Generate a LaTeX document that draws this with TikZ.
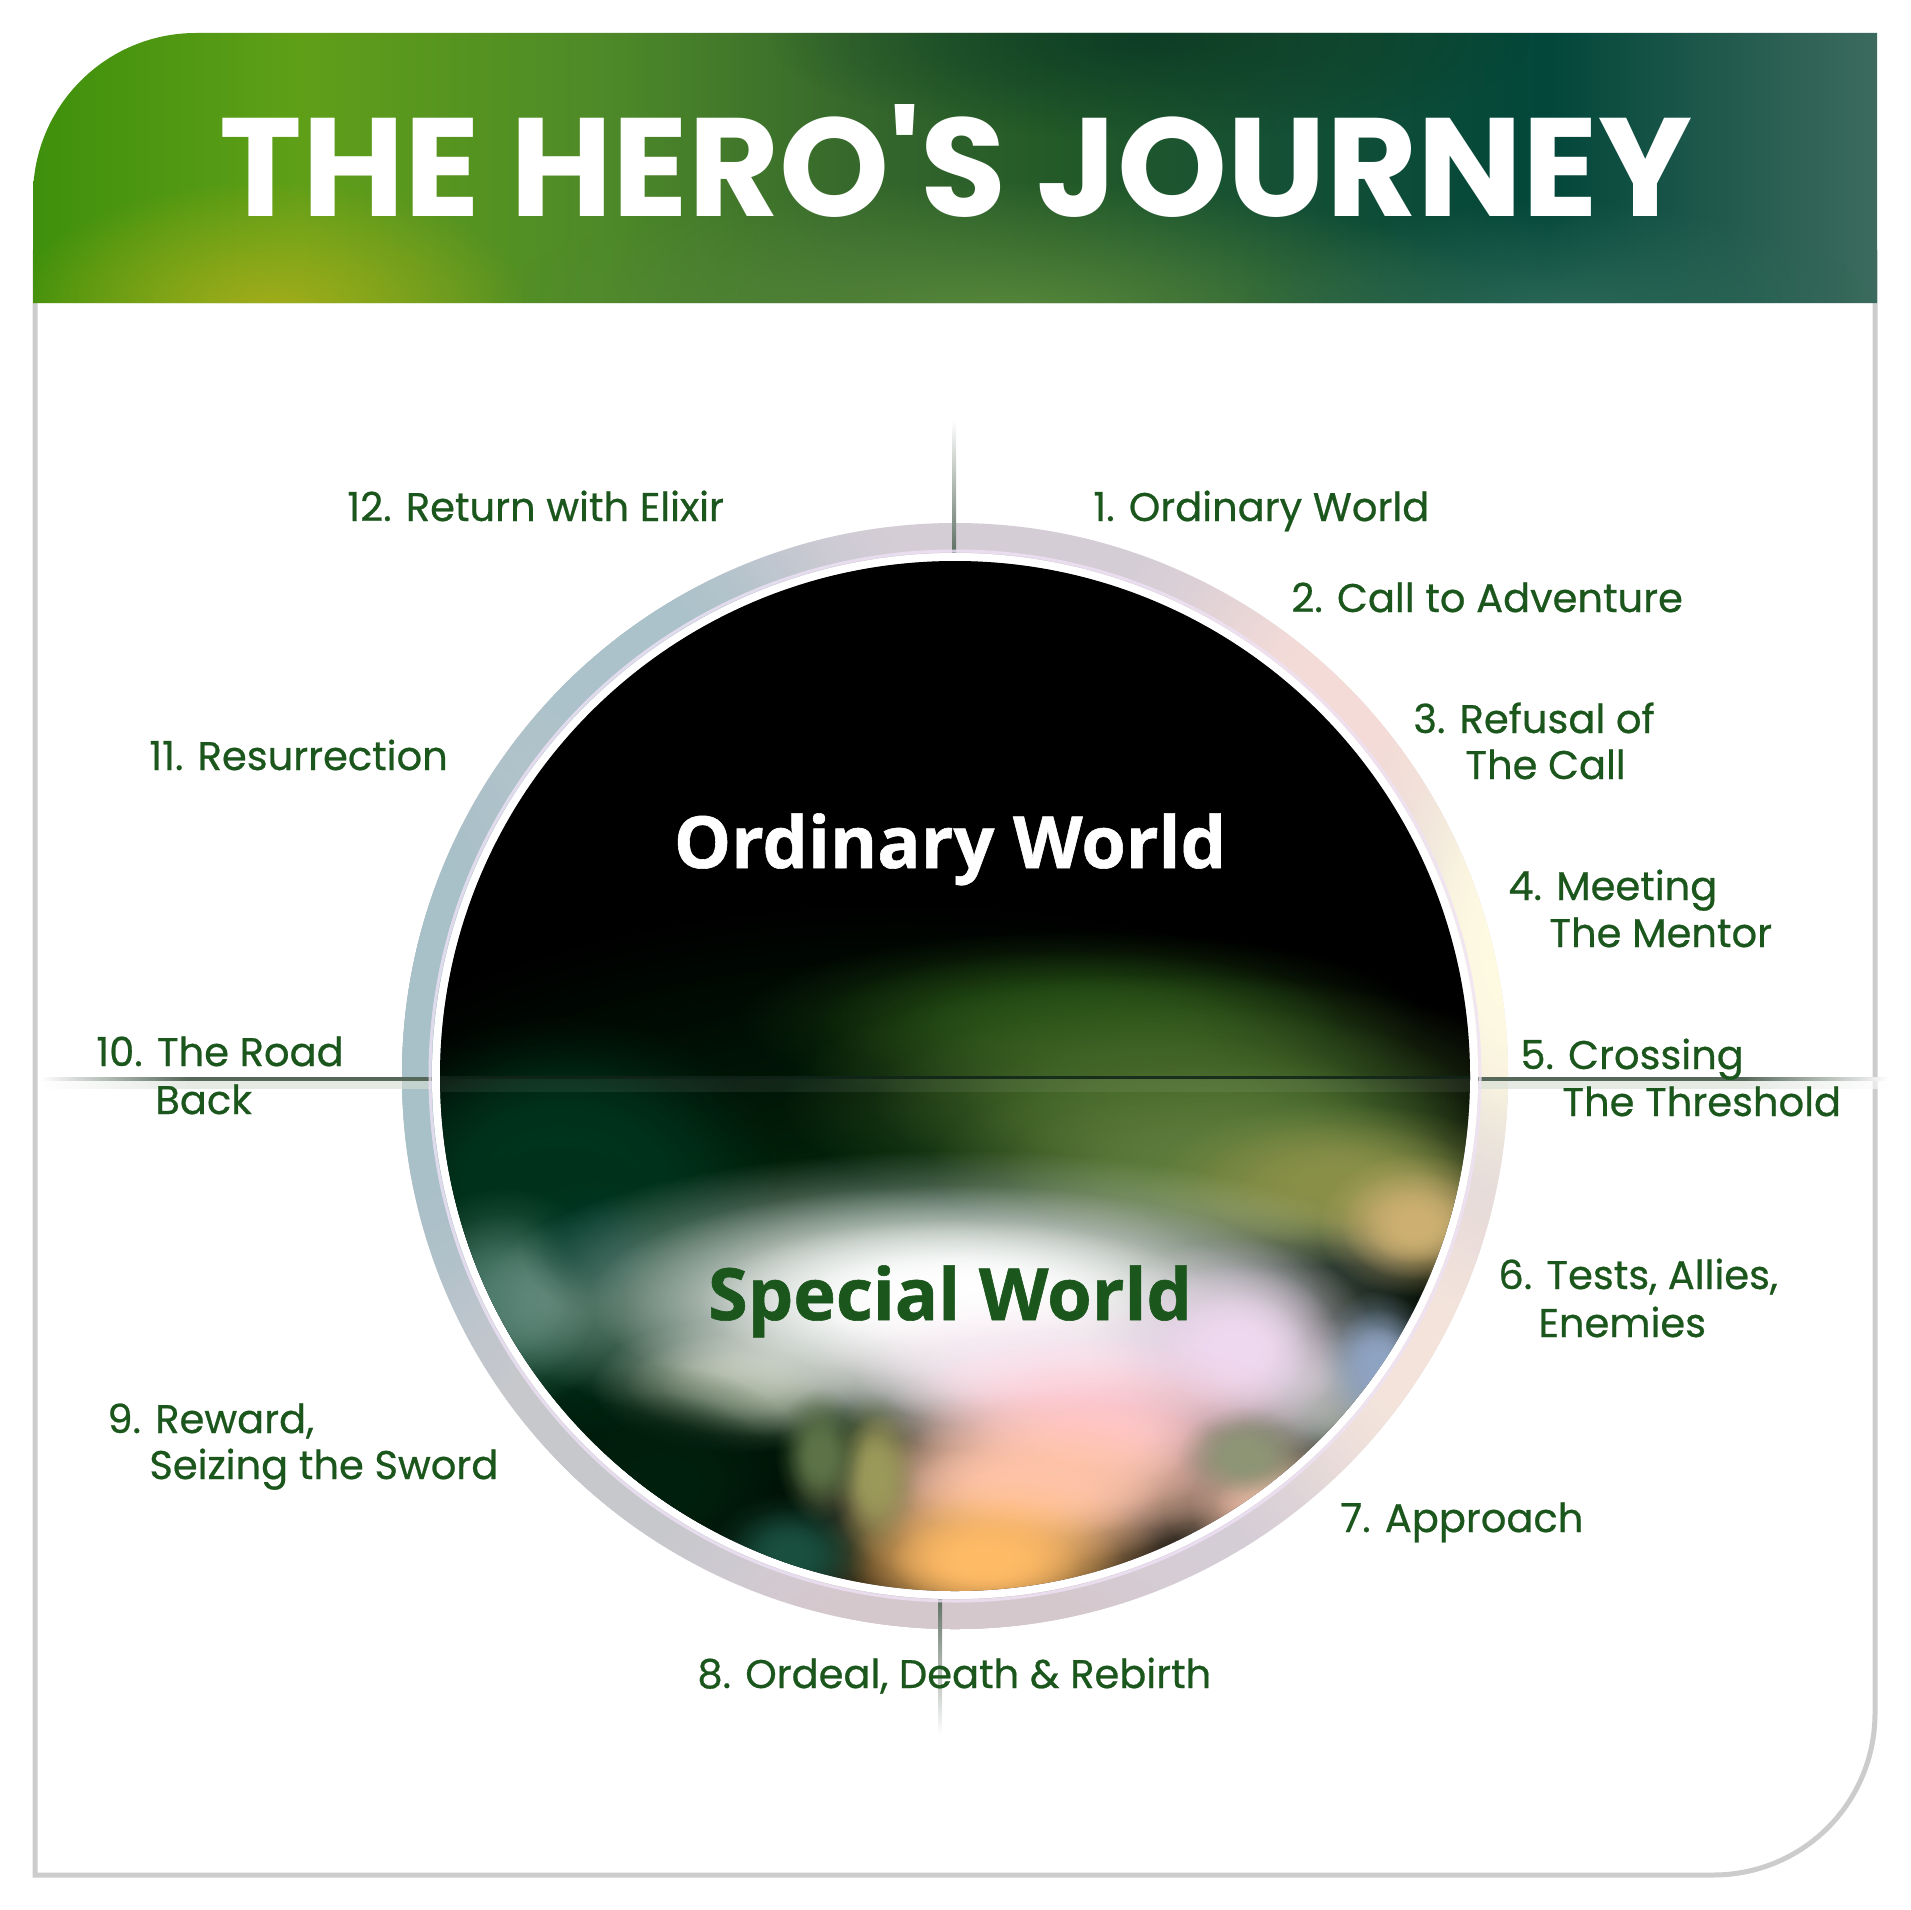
\documentclass[tikz,border=0pt]{standalone}
\usepackage{fontspec}
\setmainfont{Poppins}
\newfontfamily\labelfont{Poppins}[FakeBold=0.6]
\newfontfamily\titlefont{Poppins}
\newfontfamily\worldfont{Open Sans}[FakeBold=0.8]
\usetikzlibrary{fadings}
\definecolor{labgreen}{HTML}{1B561C}
\definecolor{framegray}{HTML}{CCCCCC}
\definecolor{axisgreen}{HTML}{56685A}
\definecolor{axisband}{HTML}{D5DDD5}
\definecolor{discline}{HTML}{12241A}
\definecolor{ringbase}{HTML}{D5CDD6}
\definecolor{ringglow}{HTML}{EEE2F6}
\definecolor{h0}{HTML}{3F900C}
\definecolor{h1}{HTML}{5F9F18}
\definecolor{h2}{HTML}{4E8A28}
\definecolor{h3}{HTML}{36682C}
\definecolor{h4}{HTML}{245A28}
\definecolor{h5}{HTML}{134F36}
\definecolor{h6}{HTML}{02473A}
\definecolor{h7}{HTML}{3C6B5E}
\pgfdeclarehorizontalshading{hdrshade}{100bp}{color(0bp)=(h0); color(25bp)=(h0); color(32.2bp)=(h1); color(40.4bp)=(h2); color(47.2bp)=(h3); color(52.6bp)=(h4); color(59.4bp)=(h5); color(66.1bp)=(h6); color(75bp)=(h7); color(100bp)=(h7)}
\pgfdeclarehorizontalshading{hlineshade}{100bp}{color(0bp)=(white); color(25bp)=(white); color(29bp)=(axisgreen); color(71bp)=(axisgreen); color(75bp)=(white); color(100bp)=(white)}
\pgfdeclarehorizontalshading{hbandshade}{100bp}{color(0bp)=(white); color(25bp)=(white); color(29bp)=(axisband); color(71bp)=(axisband); color(75bp)=(white); color(100bp)=(white)}
\tikzfading[name=blob, inner color=transparent!0, outer color=transparent!100]
\newcommand\myblob[4]{\definecolor{blobc}{HTML}{#1}\fill[blobc, path fading=blob] (#2) ellipse (#3 and #4);}
\newcommand\softblob[4]{\definecolor{blobc}{HTML}{#1}%
  \fill[blobc, path fading=blob] (#2) ellipse ({1.5*#3} and {1.5*#4});%
  \fill[blobc, path fading=blob] (#2) ellipse ({1.15*#3} and {1.15*#4});%
  \fill[blobc, path fading=blob] (#2) ellipse ({0.8*#3} and {0.8*#4});%
  \fill[blobc, path fading=blob] (#2) ellipse ({0.5*#3} and {0.5*#4});}
\tikzset{
  lab/.style={text=labgreen, font=\labelfont\fontsize{20pt}{24pt}\selectfont, anchor=base west, inner sep=0pt},
  world/.style={font=\worldfont\bfseries\fontsize{36pt}{40pt}\selectfont, anchor=base, inner sep=0pt}
}
\begin{document}
\begin{tikzpicture}[x=0.5pt, y=-0.5pt]
\useasboundingbox (0,0) rectangle (1910,1910);
\fill[white] (0,0) rectangle (1910,1910);
% frame
\draw[framegray, line width=2.5pt] (1875,250) -- (1875,1713) .. controls (1875,1803) and (1803,1875) .. (1713,1875) -- (35,1875) -- (35,250);
% header
\shade[shading=hdrshade] (33,303) -- (33,196) .. controls (33,106) and (106,33) .. (196,33) -- (1877,33) -- (1877,303) -- cycle;
\begin{scope}
\clip (33,303) -- (33,196) .. controls (33,106) and (106,33) .. (196,33) -- (1877,33) -- (1877,303) -- cycle;
\myblob{A3AD1A}{270,310}{260}{130}
\myblob{5A8A3C}{1000,320}{520}{140}
\myblob{2F6A58}{1560,320}{320}{120}
\myblob{0E3E26}{1150,40}{380}{100}
\end{scope}
\node[text=white, font=\titlefont\bfseries\fontsize{70pt}{70pt}\selectfont, anchor=base, inner sep=0pt] (title) at (956,217) {THE HERO\char"27 S JOURNEY};
% ring
\begin{scope}
\clip (955,1076) circle (553);
\fill[ringbase] (380,500) rectangle (1530,1650);
\softblob{A8C0C8}{420,1000}{170}{400}
\softblob{ACC2CA}{620,650}{200}{170}
\softblob{F5DCD8}{1350,700}{170}{170}
\softblob{FFFAE2}{1510,950}{110}{220}
\softblob{F4E4DC}{1420,1360}{160}{180}
\softblob{D6C8CC}{950,1630}{200}{75}
\softblob{C6C8CC}{600,1460}{170}{170}
\end{scope}
% axis lines
\shade[top color=white, bottom color=axisgreen] (952,420) rectangle (956,560);
\shade[top color=axisgreen, bottom color=white] (938,1590) rectangle (942,1735);
\shade[shading=hbandshade, opacity=0.6] (40,1080) rectangle (1890,1088);
\shade[shading=hlineshade] (40,1077) rectangle (1890,1080);
% glow between ring and disc
\draw[white, line width=4pt] (955,1076) circle (519);
\draw[ringglow, line width=1.5pt, opacity=0.8] (955,1076) circle (525);
% disc
\begin{scope}
\clip (955,1076) circle (515);
\fill[black] (430,550) rectangle (1480,1600);
\myblob{022E0E}{900,1260}{700}{360}
\softblob{033A22}{560,1180}{150}{110}
\softblob{00321B}{560,1270}{160}{160}
\softblob{244C14}{1080,1020}{230}{60}
\softblob{46692A}{1170,1100}{260}{85}
\softblob{5E7C3C}{1230,1165}{200}{70}
\softblob{8A9048}{1340,1185}{130}{55}
\softblob{CDB072}{1415,1225}{65}{48}
\softblob{4A7868}{505,1300}{80}{75}
\softblob{003828}{595,1244}{50}{45}
\softblob{8A9A80}{740,1385}{100}{45}
\softblob{9AA29A}{1330,1400}{80}{55}
\softblob{E6B8A2}{1275,1505}{75}{50}
\softblob{FFFFFF}{955,1300}{320}{100}
\softblob{F8E8F2}{1050,1372}{170}{55}
\softblob{EFD9F0}{1235,1350}{95}{75}
\softblob{8FA3C2}{1378,1365}{40}{50}
\softblob{FFC8D0}{1090,1435}{150}{65}
\softblob{FFC4A8}{1030,1490}{160}{65}
\softblob{FFBB66}{985,1560}{120}{55}
\softblob{8E9676}{1245,1455}{45}{32}
\softblob{02200E}{660,1485}{105}{80}
\softblob{1A5040}{790,1555}{55}{42}
\softblob{9C9A5A}{875,1475}{30}{55}
\softblob{5E7448}{820,1455}{30}{45}
\fill[discline, opacity=0.85] (430,1076) rectangle (1480,1079);
\fill[white, opacity=0.07] (430,1079) rectangle (1480,1092);
\end{scope}
% world texts
\node[world, text=white] (ordinary) at (950,868) {Ordinary World};
\node[world, text=labgreen] (special) at (950,1320) {Special World};
% labels
\node[lab] (l1) at (1093,521) {1. Ordinary World};
\node[lab] (l2) at (1291,612) {2. Call to Adventure};
\node[lab] (l3) at (1413,733) {3. Refusal of};
\node[lab] (l3b) at (1465,779) {The Call};
\node[lab] (l4) at (1508,900) {4. Meeting};
\node[lab] (l4b) at (1549,947) {The Mentor};
\node[lab] (l5) at (1520,1069) {5. Crossing};
\node[lab] (l5b) at (1562,1116) {The Threshold};
\node[lab] (l6) at (1498,1289) {6. Tests, Allies,};
\node[lab] (l6b) at (1538,1337) {Enemies};
\node[lab] (l7) at (1340,1532) {7. Approach};
\node[lab] (l8) at (697,1688) {8. Ordeal, Death \& Rebirth};
\node[lab] (l9) at (107,1433) {9. Reward,};
\node[lab] (l9b) at (149,1479) {Seizing the Sword};
\node[lab] (l10) at (96,1066) {10. The Road};
\node[lab] (l10b) at (155,1114) {Back};
\node[lab] (l11) at (149,770) {11. Resurrection};
\node[lab] (l12) at (347,521) {12. Return with Elixir};
\end{tikzpicture}
\end{document}
